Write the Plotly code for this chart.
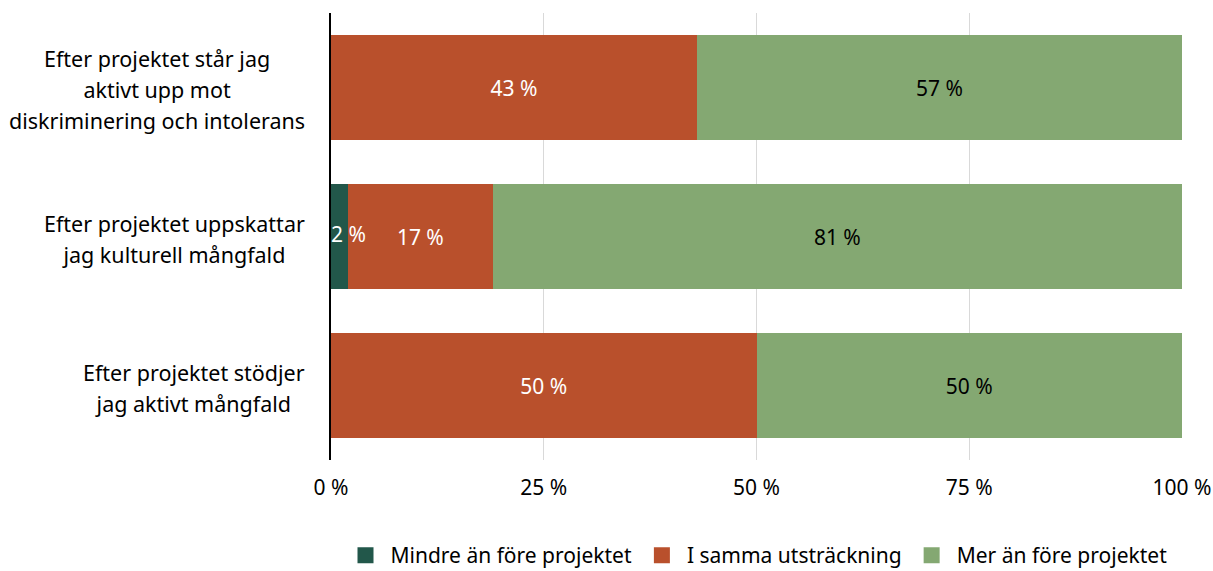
import plotly.graph_objects as go

# Survey statements (top to bottom) and answer shares in percent
statements = [
    "Efter projektet står jag<br>aktivt upp mot<br>diskriminering och intolerans",
    "Efter projektet uppskattar<br>jag kulturell mångfald",
    "Efter projektet stödjer<br>jag aktivt mångfald",
]
less_than_before = [0, 2, 0]
same_extent = [43, 17, 50]
more_than_before = [57, 81, 50]

tick_vals = [0, 25, 50, 75, 100]
tick_text = ["0 %", "25 %", "50 %", "75 %", "100 %"]

series = [
    ("Mindre än före projektet", less_than_before, "#22574A", "white"),
    ("I samma utsträckning", same_extent, "#B9502C", "white"),
    ("Mer än före projektet", more_than_before, "#84A872", "black"),
]

FONT = "Noto Sans"

fig = go.Figure()
for i, (name, vals, color, txtcolor) in enumerate(series):
    labels = [f"{v} %" if v else "" for v in vals]
    fig.add_trace(go.Bar(
        y=statements,
        x=vals,
        name=name,
        orientation="h",
        marker=dict(color=color, line=dict(width=0)),
        text=labels if i > 0 else None,
        textposition="inside" if i > 0 else "none",
        insidetextanchor="middle",
        textangle=0,
        constraintext="none",
        insidetextfont=dict(family=FONT, size=21, color=txtcolor),
        showlegend=False,
        hoverinfo="skip",
    ))

# the tiny first segment: label sits on top of the following bars
fig.add_trace(go.Scatter(
    y=statements,
    x=[0] * len(statements),
    mode="text",
    text=[f"{v} %" if v else "" for v in less_than_before],
    textposition="middle right",
    textfont=dict(family=FONT, size=21, color="white"),
    showlegend=False,
    hoverinfo="skip",
))

# legend entries with larger square swatches
for name, vals, color, txtcolor in series:
    fig.add_trace(go.Scatter(
        x=[None], y=[None],
        mode="markers",
        name=name,
        marker=dict(symbol="square", size=22, color=color),
    ))

# category labels: centred lines, wider line spacing via big outer font
for s in statements:
    fig.add_annotation(
        xref="paper", yref="y",
        x=0, y=s,
        xanchor="right", yanchor="middle",
        xshift=-24, yshift=-2,
        align="center",
        showarrow=False,
        text=f'<span style="font-size:21.5px">{s}</span>',
        font=dict(family=FONT, size=24, color="black"),
    )

fig.update_layout(
    barmode="stack",
    bargap=0.3,
    width=1213,
    height=571,
    plot_bgcolor="white",
    paper_bgcolor="white",
    font=dict(family=FONT, color="black"),
    margin=dict(l=331, r=31, t=13, b=111, autoexpand=False),
    xaxis=dict(
        range=[0, 100],
        tickvals=tick_vals,
        ticktext=tick_text,
        tickfont=dict(size=21),
        showgrid=True,
        gridcolor="#d9d9d9",
        gridwidth=1,
        zeroline=False,
        ticks="",
        ticklabelstandoff=13,
        automargin=False,
        fixedrange=True,
    ),
    yaxis=dict(
        autorange="reversed",
        showticklabels=False,
        showline=True,
        linecolor="black",
        linewidth=2,
        ticks="",
        automargin=False,
    ),
    legend=dict(
        orientation="h",
        x=0.5,
        xanchor="center",
        y=-0.168,
        yanchor="top",
        font=dict(size=21),
        itemwidth=40,
        traceorder="normal",
    ),
    showlegend=True,
)

fig.write_html(
    "out.html",
    config={"displayModeBar": False},
    post_script="document.body.style.margin='0';",
)
